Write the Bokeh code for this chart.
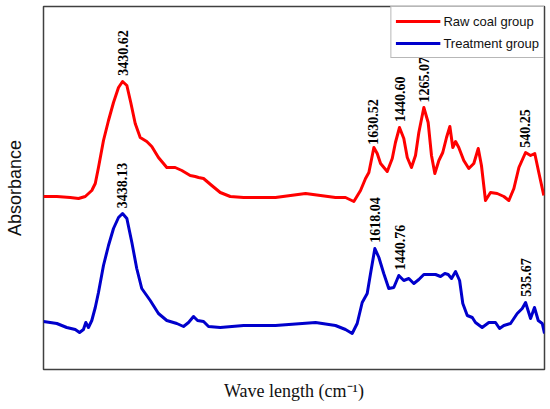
import numpy as np
from bokeh.plotting import figure
from bokeh.models import Range1d, FixedTicker
from bokeh.core.properties import value
from bokeh.embed import file_html
from bokeh.resources import INLINE

# Raw coal group spectrum (wavenumber cm-1, absorbance a.u.)
wn_raw = [4000, 3904, 3808, 3748, 3700, 3653, 3628, 3605, 3569, 3533, 3497, 3461, 3432, 3401, 3373,
          3341, 3305, 3258, 3222, 3174, 3114, 3054, 3006, 2946, 2910, 2886, 2850, 2791, 2730, 2658,
          2562, 2333, 2117, 1902, 1830, 1770, 1722, 1686, 1662, 1626, 1602, 1578, 1530, 1494, 1471,
          1442, 1411, 1386, 1356, 1327, 1303, 1267, 1236, 1212, 1188, 1159, 1131, 1104, 1080, 1059,
          1039, 1016, 980, 944, 908, 876, 853, 824, 788, 740, 692, 656, 620, 584, 536, 500, 470, 441, 405]
abs_raw = [1.73, 1.73, 1.72, 1.71, 1.73, 1.79, 1.86, 2.02, 2.29, 2.49, 2.67, 2.82, 2.88, 2.84, 2.67,
           2.46, 2.32, 2.28, 2.23, 2.12, 2.02, 2.02, 1.99, 1.94, 1.93, 1.92, 1.91, 1.84, 1.77, 1.73,
           1.72, 1.72, 1.76, 1.72, 1.72, 1.68, 1.79, 1.91, 1.97, 2.22, 2.16, 2.06, 1.98, 2.11, 2.27,
           2.42, 2.31, 2.12, 2.02, 2.14, 2.37, 2.62, 2.47, 2.14, 1.96, 2.09, 2.17, 2.32, 2.43, 2.22,
           2.28, 2.22, 2.09, 2.01, 2.06, 2.21, 2.04, 1.69, 1.77, 1.76, 1.73, 1.69, 1.81, 2.02, 2.17,
           2.14, 2.16, 1.97, 1.74]

# Treatment group spectrum
wn_trt = [4000, 3904, 3833, 3772, 3741, 3713, 3696, 3677, 3653, 3628, 3605, 3569, 3533, 3497, 3461,
          3432, 3401, 3365, 3330, 3294, 3233, 3174, 3114, 3042, 2994, 2958, 2922, 2893, 2850, 2814,
          2730, 2562, 2333, 2045, 1902, 1830, 1782, 1746, 1710, 1674, 1650, 1619, 1590, 1555, 1519,
          1483, 1447, 1411, 1375, 1339, 1303, 1267, 1183, 1147, 1116, 1092, 1068, 1039, 1010, 987,
          955, 919, 896, 848, 800, 752, 723, 692, 644, 596, 560, 536, 500, 472, 445, 416, 400]
abs_trt = [0.48, 0.46, 0.42, 0.40, 0.37, 0.40, 0.47, 0.42, 0.49, 0.62, 0.77, 1.04, 1.24, 1.41, 1.52,
           1.56, 1.51, 1.27, 1.01, 0.81, 0.69, 0.56, 0.49, 0.46, 0.43, 0.47, 0.53, 0.49, 0.48, 0.43,
           0.42, 0.44, 0.44, 0.47, 0.44, 0.40, 0.36, 0.46, 0.67, 0.76, 0.96, 1.21, 1.12, 0.96, 0.81,
           0.82, 0.94, 0.89, 0.91, 0.86, 0.90, 0.95, 0.95, 0.93, 0.96, 0.95, 0.91, 0.98, 0.89, 0.66,
           0.54, 0.52, 0.47, 0.42, 0.47, 0.47, 0.41, 0.44, 0.46, 0.56, 0.61, 0.67, 0.51, 0.62, 0.49,
           0.46, 0.36]

# Peak labels
peaks_raw = ["3430.62", "1630.52", "1440.60", "1265.07", "540.25"]
peaks_trt = ["3438.13", "1618.04", "1440.76", "535.67"]

GAP = 0.06

p = figure(width=546, height=403, output_backend="svg", toolbar_location=None,
           x_range=Range1d(4000, 400), y_range=Range1d(0, 3.63),
           min_border_left=43, min_border_right=2, min_border_top=6, min_border_bottom=34,
           background_fill_color="white", border_fill_color="white")

p.line(wn_raw, abs_raw, line_color="#ff0000", line_width=3, line_join="round",
       legend_label="Raw coal group")
p.line(wn_trt, abs_trt, line_color="#0000cc", line_width=3, line_join="round",
       legend_label="Treatment group")


def add_labels(peaks, wn, ab):
    xs = [float(s) for s in peaks]
    ys = [float(np.interp(x, wn[::-1], ab[::-1])) + GAP for x in xs]
    p.text(x=xs, y=ys, text=peaks, angle=90, angle_units="deg",
           text_align="left", text_baseline="middle",
           text_font=value("Liberation Serif"), text_font_style="bold",
           text_font_size="14px", text_color="#000000")


add_labels(peaks_raw, wn_raw, abs_raw)
add_labels(peaks_trt, wn_trt, abs_trt)

for ax in (p.xaxis[0], p.yaxis[0]):
    ax.ticker = FixedTicker(ticks=[])
    ax.major_tick_out = 0
    ax.major_tick_in = 0
    ax.minor_tick_out = 0
    ax.minor_tick_in = 0
    ax.major_label_text_font_size = "0px"
    ax.axis_line_color = None
    ax.axis_label_text_font_style = "normal"
    ax.axis_label_text_color = "#111111"
    ax.axis_label_text_font_size = "18px"

p.xaxis.axis_label = "Wave length (cm\u207b\u00b9)"
p.xaxis.axis_label_text_font = "Liberation Serif"
p.xaxis.axis_label_standoff = 11
p.yaxis.axis_label = "Absorbance"
p.yaxis.axis_label_text_font = "Liberation Sans"
p.yaxis.axis_label_standoff = 19

p.xgrid.visible = False
p.ygrid.visible = False
p.outline_line_color = "#404040"
p.outline_line_width = 1.5

lg = p.legend[0]
lg.location = "top_right"
lg.margin = 0
lg.padding = 4
lg.spacing = 2
lg.glyph_width = 45
lg.glyph_height = 20
lg.label_height = 20
lg.label_standoff = 3
lg.label_text_font = "Liberation Sans"
lg.label_text_font_size = "13px"
lg.label_text_color = "#111111"
lg.border_line_color = "#707070"
lg.border_line_width = 1
lg.background_fill_alpha = 1.0

open("out.html", "w").write(file_html(p, INLINE))
